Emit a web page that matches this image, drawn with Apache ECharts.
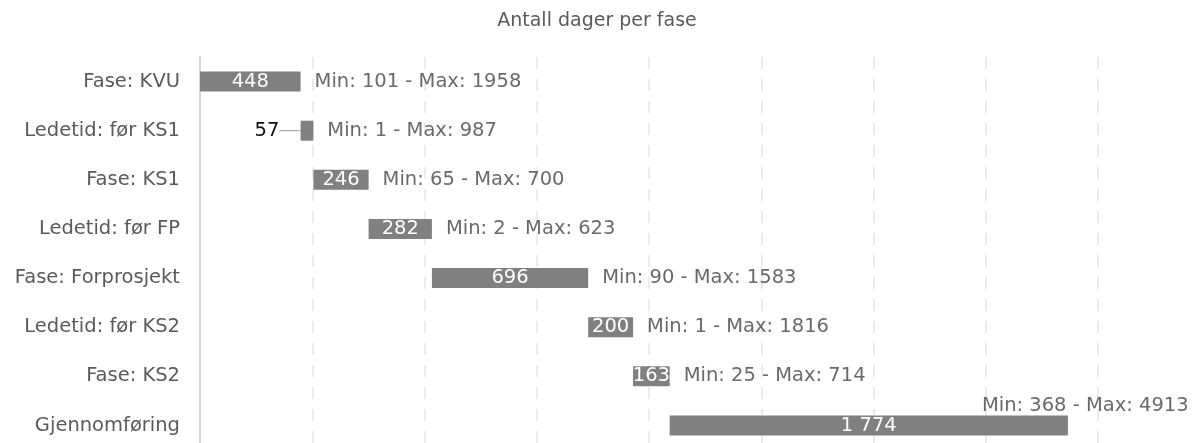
<!DOCTYPE html>
<html>
<head>
<meta charset="utf-8">
<script src="https://cdn.jsdelivr.net/npm/echarts@6/dist/echarts.min.js"></script>
<style>
  html, body { margin: 0; padding: 0; background: #fff; }
  #chart { width: 1194px; height: 443px; }
</style>
</head>
<body>
<div id="chart"></div>
<script>
// Phases and durations (days)
const phases = [
  "Fase: KVU",
  "Ledetid: før KS1",
  "Fase: KS1",
  "Ledetid: før FP",
  "Fase: Forprosjekt",
  "Ledetid: før KS2",
  "Fase: KS2",
  "Gjennomføring"
];
const days = [448, 57, 246, 282, 696, 200, 163, 1774];
const minDays = [101, 1, 65, 2, 90, 1, 25, 368];
const maxDays = [1958, 987, 700, 623, 1583, 1816, 714, 4913];
const xTicks = { min: 0, max: 4000, interval: 500 };

// Cumulative start offsets
const starts = [];
days.reduce((acc, d) => { starts.push(acc); return acc + d; }, 0);

const FONT = "DejaVu Sans";
const fmtNum = v => String(v).replace(/\B(?=(\d{3})+(?!\d))/g, " ");

const chart = echarts.init(document.getElementById("chart"));

const option = {
  backgroundColor: "#fff",
  animation: false,
  title: {
    text: "Antall dager per fase",
    left: "center",
    top: 7,
    textStyle: { fontFamily: FONT, fontSize: 19, fontWeight: "normal", color: "#5a5a5a" }
  },
  grid: { left: 200, right: 96, top: 57, height: 393, outerBoundsMode: "none" },
  xAxis: {
    type: "value",
    min: xTicks.min,
    max: xTicks.max,
    interval: xTicks.interval,
    axisLabel: { show: false },
    axisLine: { show: false },
    axisTick: { show: false },
    splitLine: {
      show: true,
      lineStyle: { color: "#ebebeb", width: 2, type: [12, 10] }
    }
  },
  yAxis: {
    type: "category",
    inverse: true,
    data: phases,
    axisTick: { show: false },
    axisLine: { show: true, lineStyle: { color: "#d9d9d9", width: 2 } },
    axisLabel: { fontFamily: FONT, fontSize: 19.5, color: "#5a5a5a", margin: 20 }
  },
  series: [
    {
      type: "bar",
      stack: "gantt",
      silent: true,
      itemStyle: { color: "transparent" },
      data: starts
    },
    {
      type: "bar",
      stack: "gantt",
      barWidth: 20,
      itemStyle: { color: "#808080" },
      label: {
        show: true,
        position: "inside",
        color: "#fff",
        fontFamily: FONT,
        fontSize: 19.5,
        formatter: p => fmtNum(p.value)
      },
      labelLine: { show: true, lineStyle: { color: "#999", width: 1 } },
      labelLayout: p => p.dataIndex === 1 ? { dx: -40 } : {},
      data: days.map((d, i) => i === 1 ? { value: d, label: { color: "#111" } } : d)
    },
    {
      type: "scatter",
      symbolSize: 0,
      silent: true,
      label: {
        show: true,
        position: "right",
        distance: 14,
        color: "#444",
        fontFamily: FONT,
        fontSize: 19.5,
        formatter: p => "Min: " + minDays[p.dataIndex] + " - Max: " + maxDays[p.dataIndex]
      },
      data: days.map((d, i) => {
        const item = { value: [starts[i] + d, phases[i]] };
        if (i === days.length - 1) item.label = { offset: [-100, -20] };
        return item;
      })
    }
  ]
};

chart.setOption(option);
window.addEventListener("resize", () => chart.resize());
</script>
</body>
</html>
